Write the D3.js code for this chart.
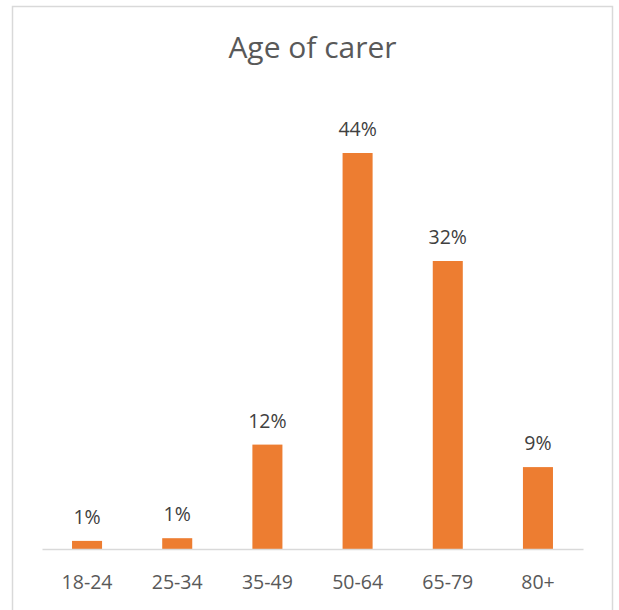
<!DOCTYPE html>
<html>
<head>
<meta charset="utf-8">
<script src="https://cdn.jsdelivr.net/npm/d3@7"></script>
<style>
	body { margin: 0; background: #fff; }
	svg { display: block; font-family: 'Open Sans', sans-serif; }
</style>
</head>
<body>
<svg id="chart" width="619" height="610"></svg>
<script>
const title = 'Age of carer';
const ageGroups = ['18-24', '25-34', '35-49', '50-64', '65-79', '80+'];
const shares = [0.009, 0.012, 0.116, 0.44, 0.32, 0.091];

const plot = { left: 42, right: 583, top: 99, bottom: 549 };

const svg = d3.select('#chart');

// chart area border (runs off the bottom of the picture)
svg.append('rect')
	.attr('x', 12.5)
	.attr('y', 6.5)
	.attr('width', 600)
	.attr('height', 620)
	.attr('fill', '#fff')
	.attr('stroke', '#d9d9d9')
	.attr('stroke-width', 1.5);

svg.append('text')
	.attr('x', 312.5)
	.attr('y', 58)
	.attr('text-anchor', 'middle')
	.attr('font-size', 30)
	.attr('fill', '#595959')
	.text(title);

const x = d3.scaleBand()
	.domain(ageGroups)
	.range([plot.left, plot.right])
	.paddingInner(0.667)
	.paddingOuter(0.333);

const y = d3.scaleLinear()
	.domain([0, 0.5])
	.range([plot.bottom, plot.top]);

svg.append('g')
	.selectAll('rect')
	.data(shares)
	.join('rect')
	.attr('x', (d, i) => x(ageGroups[i]))
	.attr('y', d => y(d))
	.attr('width', x.bandwidth())
	.attr('height', d => y(0) - y(d))
	.attr('fill', '#ed7d31');

// value labels
const fmt = d3.format('.0%');
svg.append('g')
	.selectAll('text')
	.data(shares)
	.join('text')
	.attr('x', (d, i) => x(ageGroups[i]) + x.bandwidth() / 2)
	.attr('y', d => y(d) - 17)
	.attr('text-anchor', 'middle')
	.attr('font-size', 19.5)
	.attr('fill', '#404040')
	.text(d => fmt(d));

// category axis
const axis = svg.append('g')
	.attr('transform', `translate(0,${plot.bottom})`)
	.call(d3.axisBottom(x).tickSize(0).tickSizeOuter(0));
axis.select('.domain')
	.attr('stroke', '#d9d9d9')
	.attr('stroke-width', 1.5);
axis.selectAll('text')
	.attr('font-family', "'Open Sans', sans-serif")
	.attr('font-size', 19.5)
	.attr('fill', '#595959')
	.attr('dy', 0)
	.attr('y', 40);
</script>
</body>
</html>
